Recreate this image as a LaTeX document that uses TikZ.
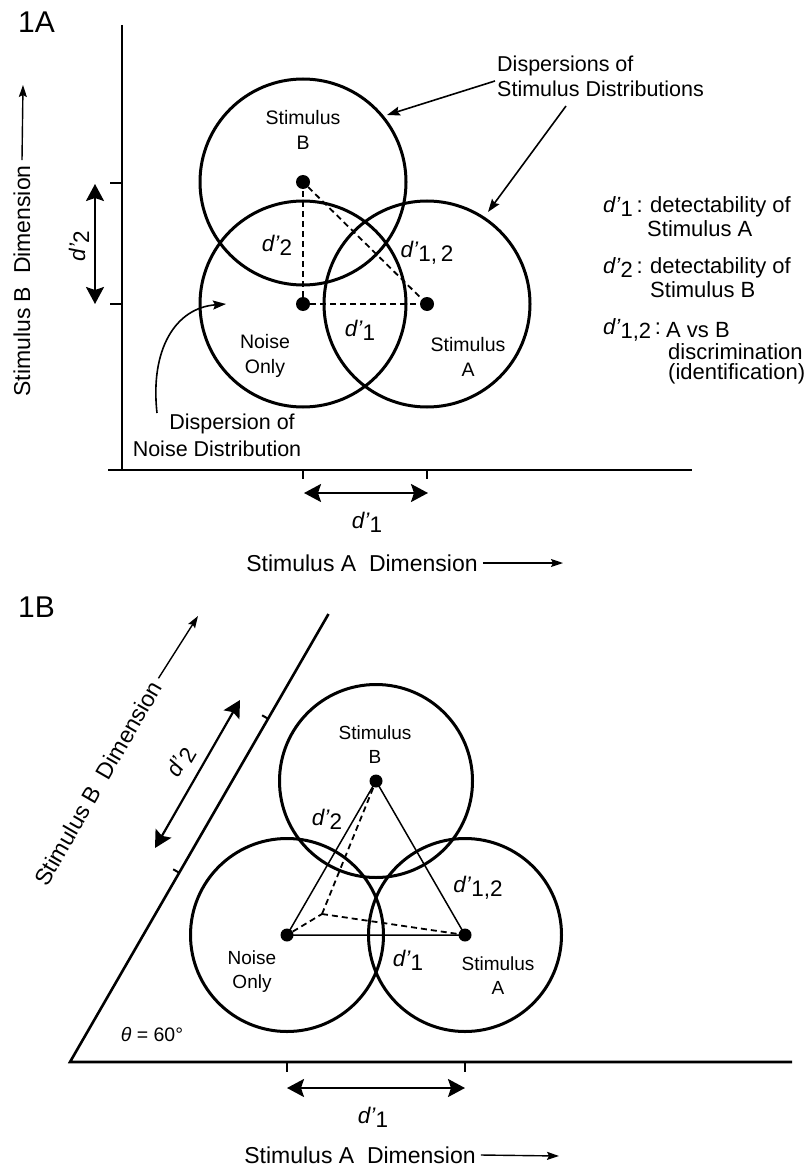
\documentclass[tikz,border=0pt]{standalone}
\usepackage{fontspec}
\setmainfont{Liberation Sans}
\usetikzlibrary{arrows.meta}
\newcommand\dprime[1]{\textit{d’}\raisebox{-0.18em}{#1}}
\newcommand\fs[1]{\fontsize{#1}{#1}\selectfont}
\begin{document}
\begin{tikzpicture}[x=1pt,y=-1pt,
  disp/.style={draw, circle, line width=3pt, inner sep=0pt},
  dot/.style={circle, fill, inner sep=0pt, minimum size=14pt},
  axis/.style={line width=2.6pt},
  tick/.style={line width=2pt},
  dashline/.style={line width=1.8pt, dash pattern=on 6pt off 4pt},
  thinline/.style={line width=1.5pt},
  dblarrow/.style={line width=2.2pt, {Stealth[length=17pt,width=18pt,inset=3pt]}-{Stealth[length=17pt,width=18pt,inset=3pt]}},
  ptr/.style={line width=1.6pt, -{Stealth[length=13pt,width=9pt,inset=2pt]}},
  axptr/.style={line width=1.4pt, -{Stealth[length=12pt,width=8pt,inset=2pt]}},
  axlabel/.style={font=\fs{23}, inner xsep=5pt, inner ysep=0pt},
  circlabel/.style={font=\fontsize{19.5}{24.5}\selectfont, align=center, inner sep=0pt},
  circlabelB/.style={font=\fontsize{19}{24}\selectfont, align=center, inner sep=0pt},
  dlabel/.style={font=\fs{22.5}, inner sep=0pt},
  legend/.style={font=\fs{22}, anchor=west, inner sep=0pt},
  note/.style={font=\fs{21.5}, inner sep=0pt}
]
\useasboundingbox (0,0) rectangle (810,1166);

% ================= Panel 1A =================
\node[font=\fs{30}, anchor=west, inner sep=0pt] (tA) at (18,22) {1A};

\coordinate (aTop) at (122,25);
\coordinate (aOrig) at (122,470);
\coordinate (aXL) at (108,470);
\coordinate (aXR) at (692,470);
\draw[axis] (aTop) -- (aOrig);
\draw[axis] (aXL) -- (aXR);
% ticks
\coordinate (aty1a) at (110,183); \coordinate (aty1b) at (122,183);
\coordinate (aty2a) at (110,304); \coordinate (aty2b) at (122,304);
\coordinate (atx1a) at (303,470); \coordinate (atx1b) at (303,479);
\coordinate (atx2a) at (427,470); \coordinate (atx2b) at (427,479);
\draw[tick] (aty1a) -- (aty1b);
\draw[tick] (aty2a) -- (aty2b);
\draw[tick] (atx1a) -- (atx1b);
\draw[tick] (atx2a) -- (atx2b);

% circles
\node[disp, minimum size=206pt] (cN) at (303,304) {};
\node[disp, minimum size=206pt] (cB) at (303,182) {};
\node[disp, minimum size=206pt] (cA) at (427,304) {};
% dots
\node[dot] (N) at (303,304) {};
\node[dot] (B) at (303,182) {};
\node[dot] (A) at (427,304) {};
\draw[dashline] (N) -- (B);
\draw[dashline] (N) -- (A);
\draw[dashline] (B) -- (A);

% labels in circles
\node[circlabel] (lB) at (303,130) {Stimulus\\B};
\node[circlabel] (lN) at (265,356) {Noise\\Only};
\node[circlabel] (lA) at (468,357) {Stimulus\\A};
\node[dlabel] (ld2) at (277,245) {\dprime{2}};
\node[dlabel] (ld12) at (427,253) {\dprime{1,\,2}};
\node[dlabel] (ld1) at (360,330) {\dprime{1}};

% dispersions annotation
\node[note, anchor=west, align=left, font=\fontsize{21.5}{25}\selectfont] (dispS) at (497,76) {Dispersions of\\Stimulus Distributions};
\coordinate (p1s) at (495,81); \coordinate (p1e) at (387,115);
\coordinate (p2s) at (566,106); \coordinate (p2e) at (488,212);
\draw[ptr] (p1s) -- (p1e);
\draw[ptr] (p2s) -- (p2e);

% noise dispersion annotation
\node[note] (dn1) at (232,424) {Dispersion of};
\node[note] (dn2) at (217,449) {Noise Distribution};
\coordinate (p3s) at (157,413); \coordinate (p3e) at (226,304);
\draw[ptr] (p3s) .. controls (150,350) and (175,308) .. (p3e);

% d'2 arrow (vertical)
\coordinate (d2t) at (95,184); \coordinate (d2b) at (95,304);
\draw[dblarrow] (d2t) -- (d2b);
\node[dlabel, rotate=90] (ld2ax) at (79,246) {\dprime{2}};

% B axis label
\node[axlabel, rotate=90] (bLab) at (22,281) {Stimulus B~~Dimension};
\coordinate (bArr) at (23,85);
\draw[axptr] (bLab.east) -- (bArr);

% d'1 arrow (horizontal)
\coordinate (d1l) at (304,493); \coordinate (d1r) at (428,493);
\draw[dblarrow] (d1l) -- (d1r);
\node[dlabel] (ld1ax) at (367,522) {\dprime{1}};

% A axis label
\node[axlabel] (aLab) at (362,563) {Stimulus A~~Dimension};
\coordinate (aArr) at (563,563);
\draw[axptr] (aLab.east) -- (aArr);

% legend
\node[legend] (g1) at (603,207) {\dprime{1}\,:};
\node[legend] (g1a) at (650,207) {detectability of};
\node[legend] (g1b) at (647,229) {Stimulus A};
\node[legend] (g2) at (603,268) {\dprime{2}\,:};
\node[legend] (g2a) at (650,268) {detectability of};
\node[legend] (g2b) at (650,290) {Stimulus B};
\node[legend] (g3) at (603,330) {\dprime{1,2}\,:};
\node[legend] (g3a) at (666,330) {A vs B};
\node[legend] (g3b) at (668,352) {discrimination};
\node[legend] (g3c) at (668,374) {(identification)};

% ================= Panel 1B =================
\node[font=\fs{30}, anchor=west, inner sep=0pt] (tB) at (18,607) {1B};

\coordinate (bCorner) at (70,1062);
\coordinate (bTop) at (328.5,614);
\coordinate (bRight) at (792,1062);
\draw[axis, line join=miter] (bTop) -- (bCorner) -- (bRight);
% ticks on bottom axis
\coordinate (btx1a) at (287,1062); \coordinate (btx1b) at (287,1072);
\coordinate (btx2a) at (465,1062); \coordinate (btx2b) at (465,1072);
\draw[tick] (btx1a) -- (btx1b);
\draw[tick] (btx2a) -- (btx2b);
% ticks on slanted axis
\coordinate (bts1a) at (179.3,872.8); \coordinate (bts1b) at (173.2,869.3);
\coordinate (bts2a) at (268.2,718.8); \coordinate (bts2b) at (262.1,715.3);
\draw[tick] (bts1a) -- (bts1b);
\draw[tick] (bts2a) -- (bts2b);

% circles
\node[disp, minimum size=193pt] (kN) at (287,935) {};
\node[disp, minimum size=193pt] (kA) at (465,935) {};
\node[disp, minimum size=193pt] (kB) at (376,781) {};
% dots
\node[dot, minimum size=13pt] (N2) at (287,935) {};
\node[dot, minimum size=13pt] (A2) at (465,935) {};
\node[dot, minimum size=13pt] (B2) at (376,781) {};
\coordinate (P) at (322,914);
\draw[thinline] (N2.center) -- (A2.center) -- (B2.center) -- cycle;
\draw[dashline] (N2) -- (P);
\draw[dashline] (P) -- (B2);
\draw[dashline] (P) -- (A2);

% labels
\node[circlabelB] (mB) at (375,745) {Stimulus\\B};
\node[circlabelB] (mN) at (252,972) {Noise\\Only};
\node[circlabelB] (mA) at (498,976) {Stimulus\\A};
\node[dlabel] (md2) at (327,819) {\dprime{2}};
\node[dlabel] (md12) at (478,888) {\dprime{1,2}};
\node[dlabel] (md1) at (408,960) {\dprime{1}};
\node[font=\fs{19.5}, inner sep=0pt] (theta) at (152,1035) {\textit{θ} = 60°};

% d'2 slanted arrow
\coordinate (e2b) at (155,848); \coordinate (e2t) at (240,700);
\draw[dblarrow] (e2b) -- (e2t);
\node[dlabel, rotate=60] (md2ax) at (181,762) {\dprime{2}};

% B axis label slanted
\node[axlabel, rotate=60] (bLab2) at (98,783) {Stimulus B~~Dimension};
\coordinate (bArr2) at (198,616);
\draw[axptr] (bLab2.east) -- (bArr2);

% d'1 arrow bottom
\coordinate (e1l) at (287,1088); \coordinate (e1r) at (465,1088);
\draw[dblarrow] (e1l) -- (e1r);
\node[dlabel] (md1ax) at (373,1117) {\dprime{1}};

% A axis label
\node[axlabel] (aLab2) at (360,1155) {Stimulus A~~Dimension};
\coordinate (aArr2) at (559,1156);
\draw[axptr] (aLab2.east) -- (aArr2);

\end{tikzpicture}
\end{document}
